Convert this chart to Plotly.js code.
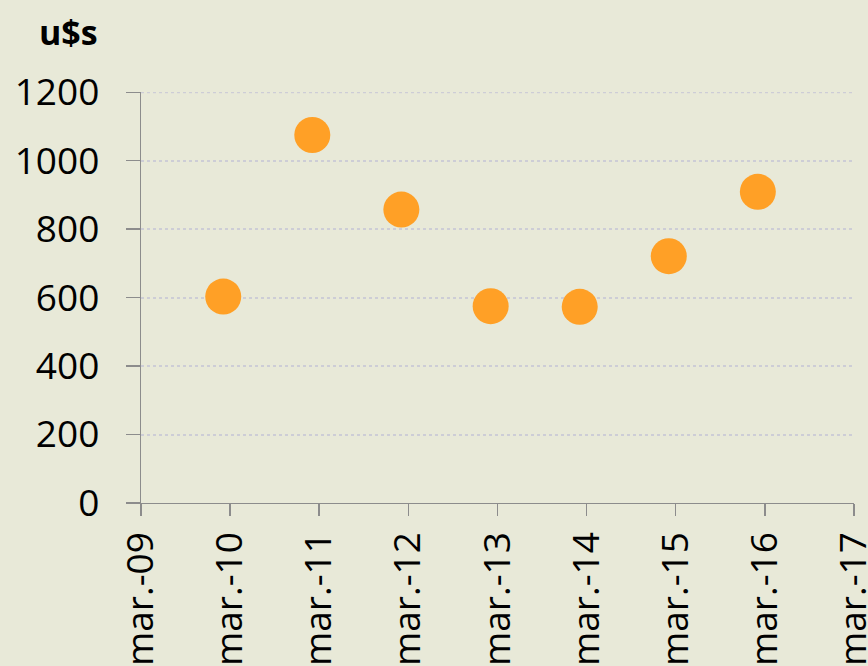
<!DOCTYPE html>
<html>
<head>
<meta charset="utf-8">
<script src="https://cdn.plot.ly/plotly-3.0.1.min.js"></script>
<style>
  html, body { margin: 0; padding: 0; background: #E8E9D8; }
  #chart { width: 868px; height: 666px; }
</style>
</head>
<body>
<div id="chart"></div>
<script>
// Data
const dates = ["2010-02-01", "2011-02-01", "2012-02-01", "2013-02-01", "2014-02-01", "2015-02-01", "2016-02-01"];
const values = [603, 1075, 857, 575, 573, 721, 909];

const tickDates = ["2009-03-01", "2010-03-01", "2011-03-01", "2012-03-01", "2013-03-01", "2014-03-01", "2015-03-01", "2016-03-01", "2017-03-01"];
const tickLabels = ["mar.-09", "mar.-10", "mar.-11", "mar.-12", "mar.-13", "mar.-14", "mar.-15", "mar.-16", "mar.-17"];
const yTicks = [0, 200, 400, 600, 800, 1000, 1200];
const yUnit = "u$s";

const bg = "#E8E9D8";
const font = "'Open Sans', 'Noto Sans', sans-serif";
const gridColor = "#CDCDD6";

const trace = {
  x: dates,
  y: values,
  type: "scatter",
  mode: "markers",
  marker: { size: 36, color: "#FFA026", line: { width: 0 } },
  hoverinfo: "skip",
  cliponaxis: false
};

const yMax = yTicks[yTicks.length - 1];

const layout = {
  width: 868,
  height: 666,
  paper_bgcolor: bg,
  plot_bgcolor: bg,
  margin: { l: 141, r: 14, t: 92, b: 163, pad: 0 },
  showlegend: false,
  font: { family: font, size: 37, color: "#000000" },
  xaxis: {
    type: "date",
    range: [tickDates[0], "2017-03-01 02:00"],
    tickmode: "array",
    tickvals: tickDates,
    ticktext: tickLabels,
    tickangle: -90,
    ticks: "outside",
    ticklen: 12,
    tickwidth: 1.3,
    tickcolor: "#8C8C8C",
    showline: true,
    linecolor: "#8C8C8C",
    linewidth: 1.3,
    showgrid: false,
    zeroline: false,
    ticklabelstandoff: 1,
    ticklabeloverflow: "allow",
    tickfont: { family: font, size: 37, color: "#000000" }
  },
  yaxis: {
    range: [0, 1200.6],
    tickmode: "array",
    tickvals: yTicks,
    ticktext: yTicks.map(String),
    ticks: "outside",
    ticklen: 14,
    tickwidth: 1.3,
    tickcolor: "#8C8C8C",
    showline: true,
    linecolor: "#8C8C8C",
    linewidth: 1.3,
    showgrid: true,
    gridcolor: gridColor,
    gridwidth: 2,
    griddash: "dot",
    zeroline: false,
    ticklabelstandoff: 19,
    ticklabeloverflow: "allow",
    tickfont: { family: font, size: 37, color: "#000000" }
  },
  shapes: [{
    type: "line",
    xref: "paper", yref: "y",
    x0: 0, x1: 1, y0: yMax, y1: yMax,
    line: { color: gridColor, width: 2, dash: "dot" },
    layer: "below"
  }],
  annotations: [{
    text: "<b>" + yUnit + "</b>",
    xref: "paper", yref: "paper",
    x: -0.0575, y: 1.145,
    xanchor: "right", yanchor: "middle",
    showarrow: false,
    font: { family: font, size: 34, color: "#000000" }
  }]
};

Plotly.newPlot("chart", [trace], layout, { staticPlot: true, displayModeBar: false });
</script>
</body>
</html>
